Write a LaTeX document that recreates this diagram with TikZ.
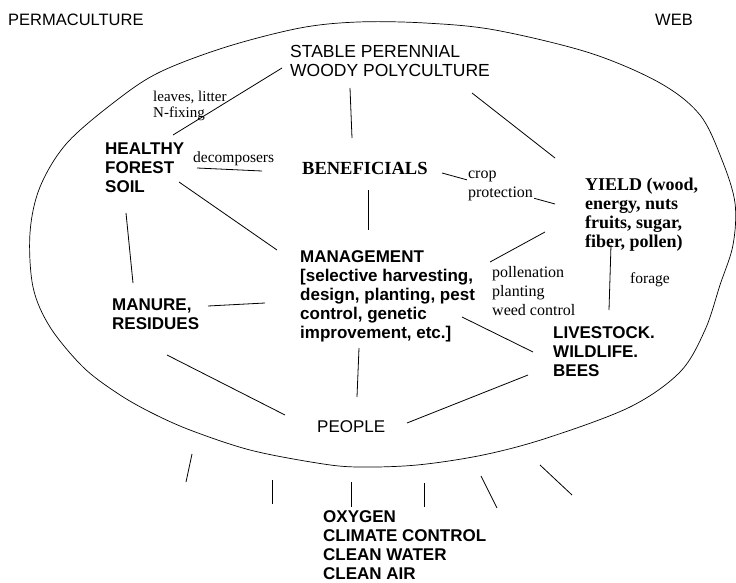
\documentclass[tikz,border=0pt]{standalone}
\usepackage{fontspec}
\setmainfont{Liberation Serif}
\setsansfont{Liberation Sans}
\newcommand{\mlines}[1]{\begin{tabular}[t]{@{}l@{}}#1\end{tabular}}
\begin{document}
\begin{tikzpicture}[x=1pt,y=-1pt,
  txt/.style={anchor=base west, inner sep=0pt},
  titletxt/.style={txt, font=\sffamily\fontsize{16.5}{19}\selectfont},
  capsreg/.style={txt, font=\sffamily\fontsize{17.5}{19}\selectfont},
  capsbold/.style={txt, font=\sffamily\bfseries\fontsize{17}{19}\selectfont},
  envtxt/.style={txt, font=\sffamily\bfseries\fontsize{17}{19.3}\selectfont},
  smallserif/.style={txt, font=\rmfamily\fontsize{15.5}{19}\selectfont},
  boldserif/.style={txt, font=\rmfamily\bfseries\fontsize{18}{19}\selectfont},
  link/.style={line width=0.8pt},
  rim/.style={line width=0.7pt},
  ray/.style={line width=0.8pt}]
\useasboundingbox[fill=white] (0,0) rectangle (736,583);

% outer hand-drawn ellipse
\draw[rim] plot[smooth cycle, tension=0.55] coordinates {
 (358,22) (425,23) (495,30) (590,53) (660,83) (700,115) (722,160) (735,203)
 (733,245) (720,285) (705,330) (680,372) (630,407) (547,438) (483,455)
 (417,465) (357,467) (317,463) (250,450) (190,430) (150,412) (117,393)
 (83,367) (50,327) (33,287) (30,233) (40,187) (67,143) (117,100) (160,72)
 (226,47) (300,28)};

% titles
\node[titletxt] (title) at (8,26) {PERMACULTURE};
\node[titletxt] (web) at (655,26) {WEB};

% nodes
\node[capsreg] (stable) at (290,58) {\mlines{STABLE PERENNIAL\\WOODY POLYCULTURE}};
\node[smallserif, font=\rmfamily\fontsize{15}{15}\selectfont] (leaves) at (153,102) {\mlines{leaves, litter\\N-fixing}};
\node[capsbold] (soil) at (105,154) {\mlines{HEALTHY\\FOREST\\SOIL}};
\node[smallserif] (decomp) at (193,162) {decomposers};
\node[boldserif, font=\rmfamily\bfseries\fontsize{18.5}{19}\selectfont] (benef) at (302,175) {BENEFICIALS};
\node[boldserif] (yield) at (585,190) {\mlines{YIELD (wood,\\energy, nuts\\fruits, sugar,\\fiber, pollen)}};
\node[capsbold] (mgmt) at (300,262) {\mlines{MANAGEMENT\\{[}selective harvesting,\\design, planting, pest\\control, genetic\\improvement, etc.{]}}};
\node[smallserif, font=\rmfamily\fontsize{16}{19}\selectfont] (poll) at (492,277) {\mlines{pollenation\\planting\\weed control}};
\node[smallserif] (forage) at (630,283) {forage};
\node[capsbold] (manure) at (112,310) {\mlines{MANURE,\\RESIDUES}};
\node[capsbold] (live) at (553,338) {\mlines{LIVESTOCK.\\WILDLIFE.\\BEES}};
\node[capsreg, font=\sffamily\fontsize{17}{19}\selectfont] (people) at (317,432) {PEOPLE};
\node[envtxt] (env) at (323,522) {\mlines{OXYGEN\\CLIMATE CONTROL\\CLEAN WATER\\CLEAN AIR}};

% connectors
\draw[link] ([shift={(-8,10)}]stable.base west) -- ([shift={(68,-19)}]soil.base west);
\draw[link] ([shift={(60,30)}]stable.base west) -- ([shift={(50,-37)}]benef.base west);
\draw[link] ([shift={(182,35)}]stable.base west) -- ([shift={(-30,-32)}]yield.base west);
\draw[link] ([shift={(92,14)}]soil.base west) -- ([shift={(-40,-4)}]benef.base west);
\draw[link] ([shift={(74,28)}]soil.base west) -- ([shift={(-23,-12)}]mgmt.base west);
\draw[link] ([shift={(21,59)}]soil.base west) -- ([shift={(21,-27)}]manure.base west);
\draw[link] ([shift={(66,15)}]benef.base west) -- ([shift={(68,-32)}]mgmt.base west);
\draw[link] ([shift={(140,-2)}]benef.base west) -- ([shift={(-30,14)}]yield.base west)
  node[pos=0.5, xshift=2pt, yshift=4pt, fill=white, inner sep=1.5pt,
       font=\rmfamily\fontsize{16}{19}\selectfont] (crop) {\mlines{crop\\protection}};
\draw[link] ([shift={(190,0)}]mgmt.base west) -- ([shift={(-40,42)}]yield.base west);
\draw[link] ([shift={(-35,41)}]mgmt.base west) -- ([shift={(96,-4)}]manure.base west);
\draw[link] ([shift={(162,55)}]mgmt.base west) -- ([shift={(-20,14)}]live.base west);
\draw[link] ([shift={(59,86)}]mgmt.base west) -- ([shift={(40,-35)}]people.base west);
\draw[link] ([shift={(55,45)}]manure.base west) -- ([shift={(-32,-17)}]people.base west);
\draw[link] ([shift={(90,-9)}]people.base west) -- ([shift={(-25,37)}]live.base west);
\draw[link] ([shift={(26,55)}]yield.base west) -- ([shift={(56,-28)}]live.base west);

% rays below the web
\draw[ray] (192,454) -- (186,482);
\draw[ray] (272,480) -- (272,504);
\draw[ray] (351,482) -- (351,507);
\draw[ray] (424,483) -- (424,507);
\draw[ray] (481,476) -- (497,508);
\draw[ray] (540,465) -- (572,495);
\end{tikzpicture}
\end{document}
